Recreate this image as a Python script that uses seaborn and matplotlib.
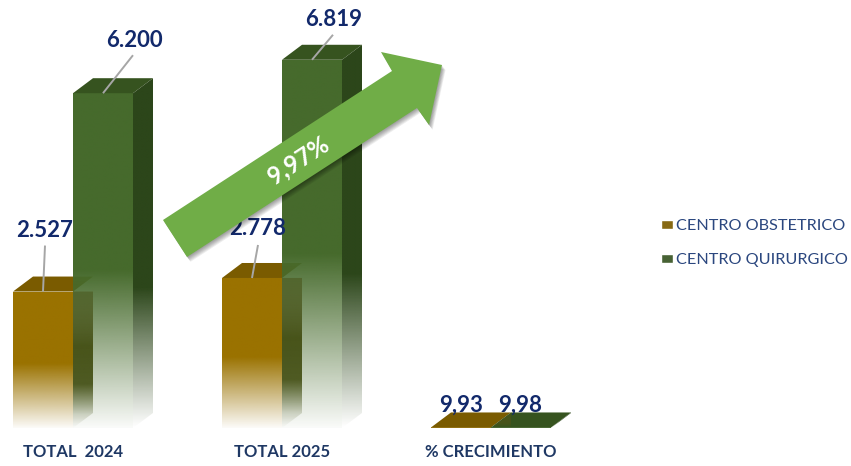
import numpy as np
import pandas as pd
import matplotlib
matplotlib.use("Agg")
import matplotlib.pyplot as plt
import matplotlib.transforms as mtrans
from matplotlib.colors import to_rgb
from matplotlib.patches import Polygon
import seaborn as sns

# values
categories = ["TOTAL  2024", "TOTAL 2025", "% CRECIMIENTO"]
obstetrico = [2527, 2778, 9.93]
quirurgico = [6200, 6819, 9.98]
obstetrico_labels = ["2.527", "2.778", "9,93"]
quirurgico_labels = ["6.200", "6.819", "9,98"]
growth_label = "9,97%"

GOLD, GOLD_TOP, GOLD_SIDE = "#9a7200", "#7a5b00", "#48541a"
GREEN, GREEN_TOP, GREEN_SIDE = "#466a2c", "#36531f", "#2c461a"
NAVY = "#12296b"

W, H = 851, 466
PX_X = 209.0      # px per category
PX_Y = 0.054      # px per unit
BASE_X, BASE_Y = 73, 428
DX, DY = 20 / PX_X, 15 / PX_Y

sns.set_theme(style="white")
plt.rcParams["font.family"] = ["Lato", "DejaVu Sans"]

df = pd.DataFrame({
    "cat": categories * 2,
    "serie": ["CENTRO OBSTETRICO"] * 3 + ["CENTRO QUIRURGICO"] * 3,
    "valor": obstetrico + quirurgico,
})

fig = plt.figure(figsize=(W / 100, H / 100), dpi=100)
ax = fig.add_axes([0, 0, 1, 1])
sns.barplot(data=df, x="cat", y="valor", hue="serie", palette=[GOLD, GREEN],
            width=120 / PX_X, gap=0, dodge=True, errorbar=None, ax=ax)
sns.move_legend(ax, "upper left", bbox_to_anchor=(661 / W, 1 - 219 / H), title=None,
                frameon=False, fontsize=11.7, labelcolor="#2b477f", handlelength=0.72,
                handleheight=0.5, handletextpad=0.2, labelspacing=1.26, borderpad=0,
                borderaxespad=0)

# picture coordinates, for the arrow that sits on top of the chart
px = mtrans.Affine2D().scale(1, -1).translate(0, H)


def gradient(verts, color, stops, zorder):
    """fill a polygon with a vertical fade, stops = (height fraction, alpha)"""
    verts = np.array(verts)
    y0, y1 = verts[:, 1].min(), verts[:, 1].max()
    frac = np.linspace(0, 1, 256)
    rgba = np.ones((256, 1, 4))
    rgba[:, 0, :3] = to_rgb(color)
    rgba[:, 0, 3] = np.interp(frac, [s[0] for s in stops], [s[1] for s in stops])
    clip = Polygon(verts, closed=True, fill=False, edgecolor="none", zorder=zorder)
    ax.add_patch(clip)
    im = ax.imshow(rgba, origin="lower", aspect="auto", interpolation="bilinear",
                   extent=(verts[:, 0].min(), verts[:, 0].max(), y0, y1), zorder=zorder)
    im.set_clip_path(clip)


gold_bars, green_bars = ax.containers[0], ax.containers[1]
front_fade = [(0, 0.03), (0.47, 1), (1, 1)]

for bars, front, top, side, z in ((gold_bars, GOLD, GOLD_TOP, None, 2),
                                  (green_bars, GREEN, GREEN_TOP, GREEN_SIDE, 3)):
    for bar in bars:
        x0, x1, v = bar.get_x(), bar.get_x() + bar.get_width(), bar.get_height()
        bar.set_facecolor("none")
        bar.set_edgecolor("none")
        gradient([(x0, 0), (x1, 0), (x1, v), (x0, v)], front, front_fade, z)
        ax.add_patch(Polygon([(x0, v), (x1, v), (x1 + DX, v + DY), (x0 + DX, v + DY)],
                             color=top, lw=0, zorder=z))
        if side:
            gradient([(x1, 0), (x1 + DX, DY), (x1 + DX, v + DY), (x1, v)], side,
                     [(0, 0), (0.4, 1), (1, 1)], z)

# gold side shows through the green bar
for bar in gold_bars:
    x1, v = bar.get_x() + bar.get_width(), bar.get_height()
    gradient([(x1, 0), (x1 + DX, DY), (x1 + DX, v), (x1, v)], GOLD_SIDE,
             [(0, 0), (0.1, 0.2), (0.32, 0.95), (0.6, 1), (1, 0.55)], 4)

# value labels with their grey leader lines, offsets in px from the bar top centre
label_off = [(2, 61), (6, 49), (0, 22), (31, 53), (22, 40), (-1, 22)]
leader_off = [(2, 46), (6, 33), None, (30, 38), (21, 25), None]
for bar, text, off, lead in zip(list(gold_bars) + list(green_bars),
                                obstetrico_labels + quirurgico_labels, label_off, leader_off):
    cx, v = bar.get_x() + bar.get_width() / 2, bar.get_height()
    if lead:
        ax.plot([cx, cx + lead[0] / PX_X], [v, v + lead[1] / PX_Y], color="#a6a6a6", lw=1.4,
                zorder=5, solid_capstyle="butt")
    ax.annotate(text, (cx, v), xytext=(off[0] * 0.72, off[1] * 0.72), textcoords="offset points",
                ha="center", va="center", fontsize=16, fontweight="bold", color=NAVY, zorder=5)

# growth arrow
arrow_x = [163, 392, 381, 442, 429, 417, 187]
arrow_y = [220, 71, 52, 65, 125, 108, 257]
arrow = np.column_stack([arrow_x, arrow_y])
for off in np.linspace(1, 6, 6):
    ax.add_patch(Polygon(arrow + [off * 0.6, off * 0.8], closed=True, color="black", alpha=0.07,
                         lw=0, transform=px, zorder=6))
ax.add_patch(Polygon(arrow, closed=True, color="#70ad47", lw=0, transform=px, zorder=6))
ax.text(298, 160, growth_label, transform=px, rotation=33, rotation_mode="anchor", ha="center",
        va="center", color="white", fontsize=17.5, fontweight="bold", zorder=7)

ax.set_xlim(-BASE_X / PX_X, (W - BASE_X) / PX_X)
ax.set_ylim((BASE_Y - H) / PX_Y, BASE_Y / PX_Y)
ax.set_xlabel("")
ax.set_ylabel("")
ax.set_yticks([])
ax.tick_params(axis="x", length=0, pad=0)
ax.set_xticks(range(3), categories)
for t in ax.get_xticklabels():
    t.set_fontsize(12)
    t.set_fontweight("bold")
    t.set_color("#1f3864")
    t.set_y(-24 / PX_Y)
    t.set_transform(ax.transData)
    t.set_va("center")
sns.despine(ax=ax, left=True, bottom=True)

fig.savefig("out.png", dpi=100)
